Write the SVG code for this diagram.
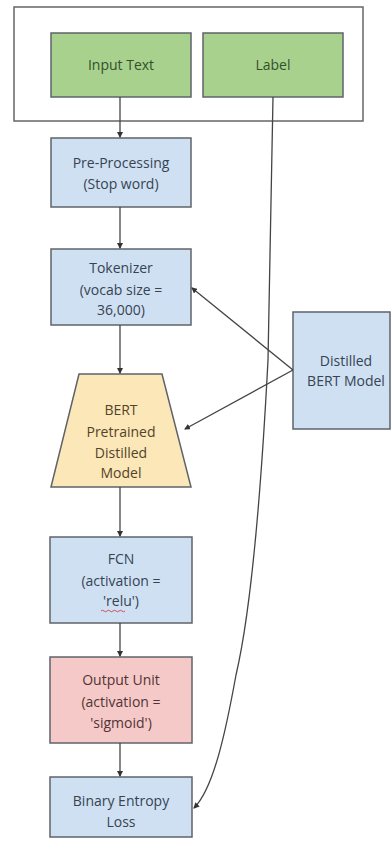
<svg xmlns="http://www.w3.org/2000/svg" width="392" height="842" viewBox="0 0 392 842">
<style>
text{font-family:"Open Sans","Liberation Sans",sans-serif;font-size:14px;text-anchor:middle;}
.box{stroke:#5f6368;stroke-width:1.5;}
.g{fill:#a9d18e;}
.b{fill:#cfe0f2;}
.y{fill:#fce7b8;}
.p{fill:#f5c9c8;}
.tg{fill:#33502a;}
.tb{fill:#364452;}
.ty{fill:#52432a;}
.tp{fill:#523434;}
.c{fill:none;stroke:#444;stroke-width:1.3;}
</style>
<defs>
<marker id="ah" markerWidth="6" markerHeight="6" refX="5" refY="3" orient="auto" markerUnits="userSpaceOnUse">
<path d="M0,0 L6,3 L0,6 Z" fill="#333"/>
</marker>
</defs>
<rect width="392" height="842" fill="#fff"/>
<g id="container"><rect x="14" y="7" width="349" height="114" fill="none" stroke="#666" stroke-width="1.5"/></g>
<g id="input-text"><rect class="box g" x="51" y="33" width="140" height="64"/><text class="tg" x="121" y="70">Input Text</text></g>
<g id="label"><rect class="box g" x="203" y="33" width="140" height="64"/><text class="tg" x="273" y="70">Label</text></g>
<g id="preprocessing"><rect class="box b" x="51" y="138" width="140" height="69"/><text class="tb" x="121" y="168">Pre-Processing</text><text class="tb" x="121" y="189">(Stop word)</text></g>
<g id="tokenizer"><rect class="box b" x="51" y="249" width="140" height="76"/><text class="tb" x="121" y="273">Tokenizer</text><text class="tb" x="121" y="295">(vocab size =</text><text class="tb" x="121" y="315">36,000)</text></g>
<g id="distilled"><rect class="box b" x="293" y="312" width="97" height="117"/><text class="tb" x="346" y="366">Distilled</text><text class="tb" x="346" y="386">BERT Model</text></g>
<g id="bert"><path class="box y" d="M79,374 L162,374 L191,487 L51,487 Z"/><text class="ty" x="121" y="415">BERT</text><text class="ty" x="121" y="437">Pretrained</text><text class="ty" x="121" y="458">Distilled</text><text class="ty" x="121" y="478">Model</text></g>
<g id="fcn"><rect class="box b" x="50" y="537" width="142" height="86"/><text class="tb" x="121" y="564">FCN</text><text class="tb" x="121" y="586">(activation =</text><text class="tb" x="121" y="606">'relu')</text><path d="M101,611 q1.5,-1.5 3,0 t3,0 t3,0 t3,0 t3,0 t3,0 t3,0 t3,0" fill="none" stroke="#d04050" stroke-width="0.9"/></g>
<g id="output"><rect class="box p" x="50" y="657" width="142" height="86"/><text class="tp" x="121" y="685">Output Unit</text><text class="tp" x="121" y="707">(activation =</text><text class="tp" x="121" y="728">'sigmoid')</text></g>
<g id="loss"><rect class="box b" x="50" y="777" width="142" height="60"/><text class="tb" x="121" y="806">Binary Entropy</text><text class="tb" x="121" y="827">Loss</text></g>
<g id="connectors">
<line class="c" x1="120" y1="97" x2="120" y2="137" marker-end="url(#ah)"/>
<line class="c" x1="120" y1="207" x2="120" y2="248" marker-end="url(#ah)"/>
<line class="c" x1="120" y1="325" x2="120" y2="373" marker-end="url(#ah)"/>
<line class="c" x1="120" y1="487" x2="120" y2="536" marker-end="url(#ah)"/>
<line class="c" x1="120" y1="623" x2="120" y2="656" marker-end="url(#ah)"/>
<line class="c" x1="120" y1="743" x2="120" y2="776" marker-end="url(#ah)"/>
<line class="c" x1="293" y1="370" x2="192" y2="288" marker-end="url(#ah)"/>
<line class="c" x1="293" y1="370" x2="185" y2="429" marker-end="url(#ah)"/>
<path class="c" d="M273,97 L268,360 Q256,590 236,675 C226,730 214,788 194,808" marker-end="url(#ah)"/>
</g>
</svg>
